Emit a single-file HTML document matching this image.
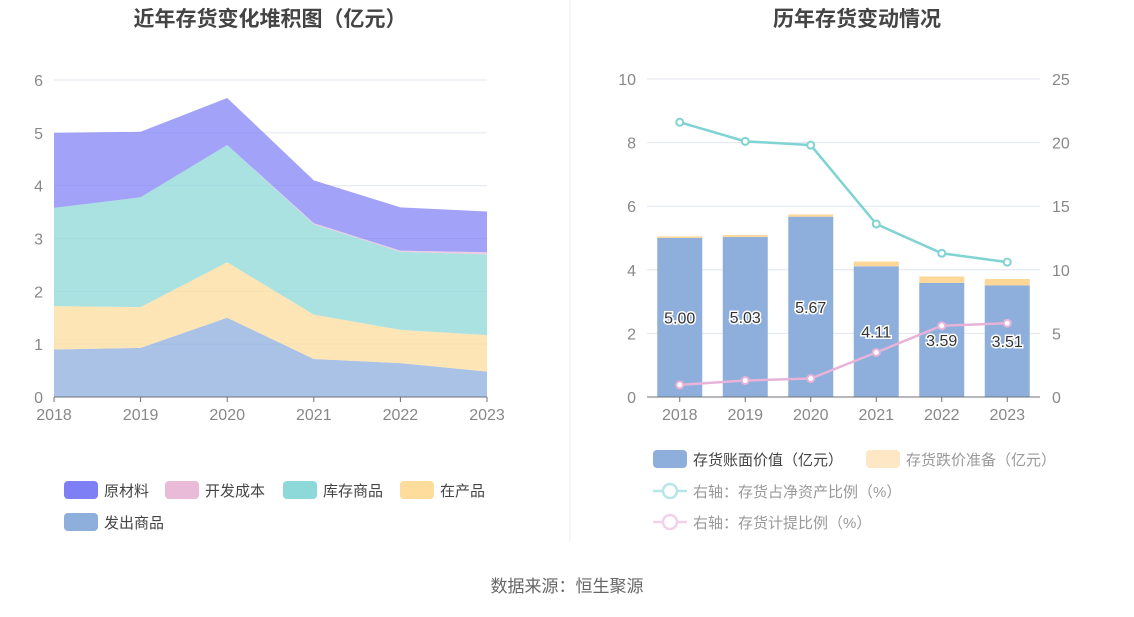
<!DOCTYPE html>
<html><head><meta charset="utf-8"><style>
body{margin:0;background:#fff;font-family:"Liberation Sans","Noto Sans CJK SC",sans-serif;}
svg text{font-family:"Liberation Sans","Noto Sans CJK SC",sans-serif;}
</style></head><body>
<svg id="c" width="1134" height="612">
<text x="270" y="26" text-anchor="middle" font-size="21" font-weight="bold" fill="#444">近年存货变化堆积图（亿元）</text>
<text x="857" y="26" text-anchor="middle" font-size="21" font-weight="bold" fill="#444">历年存货变动情况</text>
<line x1="570" y1="0" x2="570" y2="542" stroke="#eee"/>
<text x="567" y="592" text-anchor="middle" font-size="17" fill="#666">数据来源：恒生聚源</text>
<g id="L"></g><g id="R"></g>
</svg>
<script>
const years=['2018','2019','2020','2021','2022','2023'];
const fachu=[0.90,0.93,1.50,0.72,0.64,0.48];
const zaichan=[0.82,0.77,1.05,0.84,0.63,0.69];
const kucun=[1.86,2.08,2.22,1.71,1.48,1.53];
const kaifa=[0.00,0.00,0.00,0.02,0.02,0.04];
const yuancl=[1.42,1.24,0.89,0.81,0.82,0.77];
const leftTicks=[0,1,2,3,4,5,6];
const bookVal=[5.00,5.03,5.67,4.11,3.59,3.51];
const reserve=[0.05,0.06,0.07,0.15,0.20,0.20];
const ratioNet=[21.6,20.1,19.8,13.6,11.3,10.6];
const ratioProv=[0.95,1.3,1.45,3.5,5.6,5.8];
const rLeftTicks=[0,2,4,6,8,10];
const rRightTicks=[0,5,10,15,20,25];
const NS='http://www.w3.org/2000/svg';
function mk(p,t,a,txt){const e=document.createElementNS(NS,t);for(const k in a)e.setAttribute(k,a[k]);if(txt!=null)e.textContent=txt;p.appendChild(e);return e;}
// left
const L=document.getElementById('L');
const lx=i=>54+i*(487-54)/5, ly=v=>397-v*(397-80)/6;
leftTicks.forEach(t=>{if(t>0){const g=mk(L,'line',{x1:54,x2:487,y1:ly(t),y2:ly(t),stroke:'#e0e6f1'});}
const e=mk(L,'text',{x:43,y:ly(t)+6,'text-anchor':'end','font-size':16,fill:'#888'},t);});
const series=[[fachu,'#8eaedc','fachu'],[zaichan,'#fddc9c','zaichan'],[kucun,'#8dd8d8','kucun'],[kaifa,'#e9bbd9','kaifa'],[yuancl,'#7e7ff5','yuancl']];
let base=years.map(()=>0);
series.forEach(([arr,col,nm])=>{const top=base.map((b,i)=>b+arr[i]);
let d='M'+top.map((v,i)=>lx(i)+','+ly(v)).join('L');
for(let i=5;i>=0;i--)d+='L'+lx(i)+','+ly(base[i]);d+='Z';
const p=mk(L,'path',{d:d,fill:col,'fill-opacity':nm=='yuancl'?0.72:0.75});
base=top;});
mk(L,'line',{x1:54,x2:487,y1:397,y2:397,stroke:'#6e7079'});
years.forEach((y,i)=>{mk(L,'line',{x1:lx(i),x2:lx(i),y1:397,y2:402,stroke:'#6e7079'});
const e=mk(L,'text',{x:lx(i),y:420,'text-anchor':'middle','font-size':16,fill:'#888'},y);});
const lleg=[['原材料','#7e7ff5',64,490],['开发成本','#e9bbd9',165,490],['库存商品','#8dd8d8',283,490],['在产品','#fddc9c',400,490],['发出商品','#8eaedc',64,522]];
lleg.forEach(([t,c,x,y])=>{const g=mk(L,'g',{});
mk(g,'rect',{x:x,y:y-9,width:34,height:18,rx:4,fill:c});mk(g,'text',{x:x+40,y:y+6,'font-size':15,fill:'#444'},t);});
// right
const R=document.getElementById('R');
const bw=(1040-647)/6, rx=i=>647+bw*(i+0.5), ry=v=>397-v*(397-79)/10, ry2=v=>397-v*(397-79)/25;
rLeftTicks.forEach(t=>{if(t>0){const g=mk(R,'line',{x1:647,x2:1040,y1:ry(t),y2:ry(t),stroke:'#e0e6f1'});}
const e=mk(R,'text',{x:636,y:ry(t)+6,'text-anchor':'end','font-size':16,fill:'#888'},t);});
rRightTicks.forEach(t=>{const e=mk(R,'text',{x:1052,y:ry2(t)+6,'font-size':16,fill:'#888'},t);});
years.forEach((y,i)=>{const b=mk(R,'rect',{x:rx(i)-22.5,y:ry(bookVal[i]),width:45,height:397-ry(bookVal[i]),fill:'#8eaedc'});

const r=mk(R,'rect',{x:rx(i)-22.5,y:ry(bookVal[i]+reserve[i]),width:45,height:ry(bookVal[i])-ry(bookVal[i]+reserve[i]),fill:'#fdd797'});
});
mk(R,'line',{x1:647,x2:1040,y1:397,y2:397,stroke:'#6e7079'});
years.forEach((y,i)=>{mk(R,'line',{x1:rx(i),x2:rx(i),y1:397,y2:402,stroke:'#6e7079'});
const e=mk(R,'text',{x:rx(i),y:420,'text-anchor':'middle','font-size':16,fill:'#888'},y);});
[[ratioNet,'#7fd3d3','line-net-asset-ratio'],[ratioProv,'#e7b3d8','line-provision-ratio']].forEach(([arr,c,nm])=>{
const p=mk(R,'polyline',{points:arr.map((v,i)=>rx(i)+','+ry2(v)).join(' '),fill:'none',stroke:c,'stroke-width':2.5});

arr.forEach((v,i)=>{const ci=mk(R,'circle',{cx:rx(i),cy:ry2(v),r:3.5,fill:'#fff',stroke:c,'stroke-width':2});});});
years.forEach((y,i)=>{const e=mk(R,'text',{x:rx(i),y:ry(bookVal[i]/2)+6,'text-anchor':'middle','font-size':16,fill:'#333',stroke:'#fff','stroke-width':3,'paint-order':'stroke'},bookVal[i].toFixed(2));
});
const rleg=[['存货账面价值（亿元）','rect','#8eaedc',653,459,'#444'],['存货跌价准备（亿元）','rect','#fde7c4',866,459,'#999'],['右轴：存货占净资产比例（%）','line','#b7e6e6',653,491,'#999'],['右轴：存货计提比例（%）','line','#f1d2e8',653,522,'#999']];
rleg.forEach(([t,k,c,x,y,tc])=>{const g=mk(R,'g',{});
if(k=='rect')mk(g,'rect',{x:x,y:y-9,width:34,height:18,rx:4,fill:c});
else{mk(g,'line',{x1:x,x2:x+34,y1:y,y2:y,stroke:c,'stroke-width':2.5});mk(g,'circle',{cx:x+17,cy:y,r:7,fill:'#fff',stroke:c,'stroke-width':2.5});}
mk(g,'text',{x:x+40,y:y+6,'font-size':15,fill:tc},t);});
</script>
</body></html>
